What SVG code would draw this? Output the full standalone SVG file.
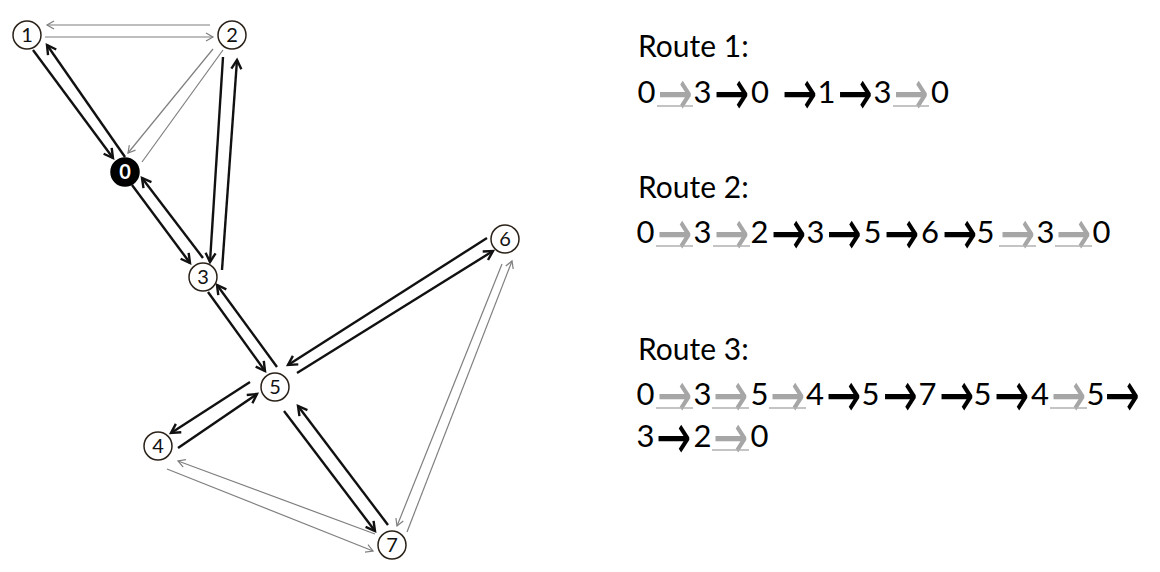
<svg xmlns="http://www.w3.org/2000/svg" width="1160" height="572" viewBox="0 0 1160 572">
  <style>
    .bk { stroke: #111; stroke-width: 2.4; fill: none; marker-end: url(#ab); }
    .gr { stroke: #7f7f7f; stroke-width: 1.2; fill: none; marker-end: url(#ag); }
    .nc { fill: #fff; stroke: #2a2218; stroke-width: 1.5; }
    .nt { font-family: Lato, "Liberation Sans", sans-serif; font-size: 20px; fill: #111; text-anchor: middle; }
    .rt { font-family: Lato, "Liberation Sans", sans-serif; font-size: 30px; fill: #000; }
    .d { font-family: Lato, "Liberation Sans", sans-serif; font-size: 31px; text-anchor: middle; fill: #000; }
    .a { font-family: "DejaVu Sans", sans-serif; font-size: 42px; fill: #000; text-anchor: middle; }
    .ga { fill: #a6a6a6; }
    .ul { stroke: #b0b0b0; stroke-width: 1.6; }
  </style>
  <defs>
    <marker id="ab" markerUnits="userSpaceOnUse" viewBox="-12 -8 16 16" markerWidth="16" markerHeight="16" refX="0" refY="0" orient="auto" overflow="visible">
      <path d="M-9,-5 L0,0 L-9,5" fill="none" stroke="#111" stroke-width="2.4"/>
    </marker>
    <marker id="ag" markerUnits="userSpaceOnUse" viewBox="-12 -8 16 16" markerWidth="16" markerHeight="16" refX="0" refY="0" orient="auto" overflow="visible">
      <path d="M-7,-4 L0,0 L-7,4" fill="none" stroke="#7f7f7f" stroke-width="1.2"/>
    </marker>
  </defs>

  <g id="connectors">
    <line class="gr" x1="210" y1="25" x2="47" y2="25"/>
    <line class="gr" x1="45" y1="37" x2="213" y2="37"/>
    <line class="gr" x1="213" y1="49" x2="128" y2="153"/>
    <line class="gr" x1="142" y1="162" x2="223" y2="50" style="marker-end:none"/>
    <line class="gr" x1="375" y1="534" x2="178" y2="461"/>
    <line class="gr" x1="167" y1="469" x2="373" y2="551"/>
    <line class="gr" x1="502" y1="264" x2="397" y2="526"/>
    <line class="gr" x1="407" y1="532" x2="512" y2="261"/>

    <line class="bk" x1="33" y1="50" x2="113" y2="158"/>
    <line class="bk" x1="125" y1="157" x2="47" y2="45"/>
    <line class="bk" x1="223" y1="57" x2="210" y2="262"/>
    <line class="bk" x1="222" y1="270" x2="237" y2="60"/>
    <line class="bk" x1="132" y1="185" x2="190" y2="263"/>
    <line class="bk" x1="203" y1="258" x2="142" y2="178"/>
    <line class="bk" x1="208" y1="292" x2="265" y2="371"/>
    <line class="bk" x1="277" y1="367" x2="217" y2="285"/>
    <line class="bk" x1="487" y1="238" x2="288" y2="365"/>
    <line class="bk" x1="297" y1="373" x2="493" y2="251"/>
    <line class="bk" x1="250" y1="382" x2="171" y2="433"/>
    <line class="bk" x1="178" y1="448" x2="257" y2="394"/>
    <line class="bk" x1="284" y1="411" x2="375" y2="531"/>
    <line class="bk" x1="388" y1="525" x2="298" y2="406"/>
  </g>

  <g id="node1"><circle class="nc" cx="27" cy="35" r="14"/><text class="nt" x="27" y="42">1</text></g>
  <g id="node2"><circle class="nc" cx="232" cy="35" r="14"/><text class="nt" x="232" y="42">2</text></g>
  <g id="node0"><circle cx="125" cy="172" r="14" fill="#000" stroke="#000" stroke-width="1.5"/><text class="nt" x="125" y="179" style="fill:#fff;font-weight:bold">0</text></g>
  <g id="node3"><circle class="nc" cx="203" cy="277" r="14"/><text class="nt" x="203" y="284">3</text></g>
  <g id="node6"><circle class="nc" cx="505" cy="239" r="14"/><text class="nt" x="505" y="246">6</text></g>
  <g id="node5"><circle class="nc" cx="275" cy="387" r="14"/><text class="nt" x="275" y="394">5</text></g>
  <g id="node4"><circle class="nc" cx="158" cy="446" r="14"/><text class="nt" x="158" y="453">4</text></g>
  <g id="node7"><circle class="nc" cx="392" cy="545" r="14"/><text class="nt" x="392" y="552">7</text></g>

  <g id="route1">
    <text class="rt" x="638" y="57">Route 1:</text>
    <text class="d" y="103"><tspan x="646.5">0</tspan><tspan x="702.5">3</tspan><tspan x="760">0</tspan><tspan x="826.5">1</tspan><tspan x="882.5">3</tspan><tspan x="940">0</tspan></text>
    <text class="a ga" transform="translate(675,115) scale(1,1.55)">→</text>
    <text class="a" transform="translate(731.5,115) scale(1,1.55)">→</text>
    <text class="a" transform="translate(799.5,115) scale(1,1.55)">→</text>
    <text class="a" transform="translate(855,115) scale(1,1.55)">→</text>
    <text class="a ga" transform="translate(911,115) scale(1,1.55)">→</text>
    <line class="ul" x1="657" y1="106" x2="693" y2="106"/>
    <line class="ul" x1="893" y1="106" x2="929" y2="106"/>
  </g>

  <g id="route2">
    <text class="rt" x="638" y="198">Route 2:</text>
    <text class="d" y="243"><tspan x="645.5">0</tspan><tspan x="702.5">3</tspan><tspan x="759.5">2</tspan><tspan x="815.5">3</tspan><tspan x="872.5">5</tspan><tspan x="930">6</tspan><tspan x="985.5">5</tspan><tspan x="1045.5">3</tspan><tspan x="1101.5">0</tspan></text>
    <text class="a ga" transform="translate(674.5,255) scale(1,1.55)">→</text>
    <text class="a ga" transform="translate(731.5,255) scale(1,1.55)">→</text>
    <text class="a" transform="translate(788.5,255) scale(1,1.55)">→</text>
    <text class="a" transform="translate(844,255) scale(1,1.55)">→</text>
    <text class="a" transform="translate(901.5,255) scale(1,1.55)">→</text>
    <text class="a" transform="translate(959.5,255) scale(1,1.55)">→</text>
    <text class="a ga" transform="translate(1017.5,255) scale(1,1.55)">→</text>
    <text class="a ga" transform="translate(1073.5,255) scale(1,1.55)">→</text>
    <line class="ul" x1="656" y1="246" x2="693" y2="246"/>
    <line class="ul" x1="713" y1="246" x2="750" y2="246"/>
    <line class="ul" x1="999" y1="246" x2="1036" y2="246"/>
    <line class="ul" x1="1055" y1="246" x2="1092" y2="246"/>
  </g>

  <g id="route3">
    <text class="rt" x="638" y="360">Route 3:</text>
    <text class="d" y="405"><tspan x="645.5">0</tspan><tspan x="702.5">3</tspan><tspan x="759.5">5</tspan><tspan x="815">4</tspan><tspan x="870.5">5</tspan><tspan x="927.5">7</tspan><tspan x="982.5">5</tspan><tspan x="1040">4</tspan><tspan x="1095.5">5</tspan></text>
    <text class="a ga" transform="translate(674.5,417) scale(1,1.55)">→</text>
    <text class="a ga" transform="translate(730.5,417) scale(1,1.55)">→</text>
    <text class="a ga" transform="translate(787.5,417) scale(1,1.55)">→</text>
    <text class="a" transform="translate(843.5,417) scale(1,1.55)">→</text>
    <text class="a" transform="translate(900,417) scale(1,1.55)">→</text>
    <text class="a" transform="translate(956.5,417) scale(1,1.55)">→</text>
    <text class="a" transform="translate(1011.5,417) scale(1,1.55)">→</text>
    <text class="a ga" transform="translate(1068.5,417) scale(1,1.55)">→</text>
    <text class="a" transform="translate(1122,417) scale(1,1.55)">→</text>
    <text class="d" y="447"><tspan x="645.5">3</tspan><tspan x="702.5">2</tspan><tspan x="759.5">0</tspan></text>
    <text class="a" transform="translate(673.5,459) scale(1,1.55)">→</text>
    <text class="a ga" transform="translate(730.5,459) scale(1,1.55)">→</text>
    <line class="ul" x1="656" y1="408" x2="693" y2="408"/>
    <line class="ul" x1="712" y1="408" x2="749" y2="408"/>
    <line class="ul" x1="769" y1="408" x2="806" y2="408"/>
    <line class="ul" x1="1050" y1="408" x2="1087" y2="408"/>
    <line class="ul" x1="712" y1="450" x2="749" y2="450"/>
  </g>
</svg>
